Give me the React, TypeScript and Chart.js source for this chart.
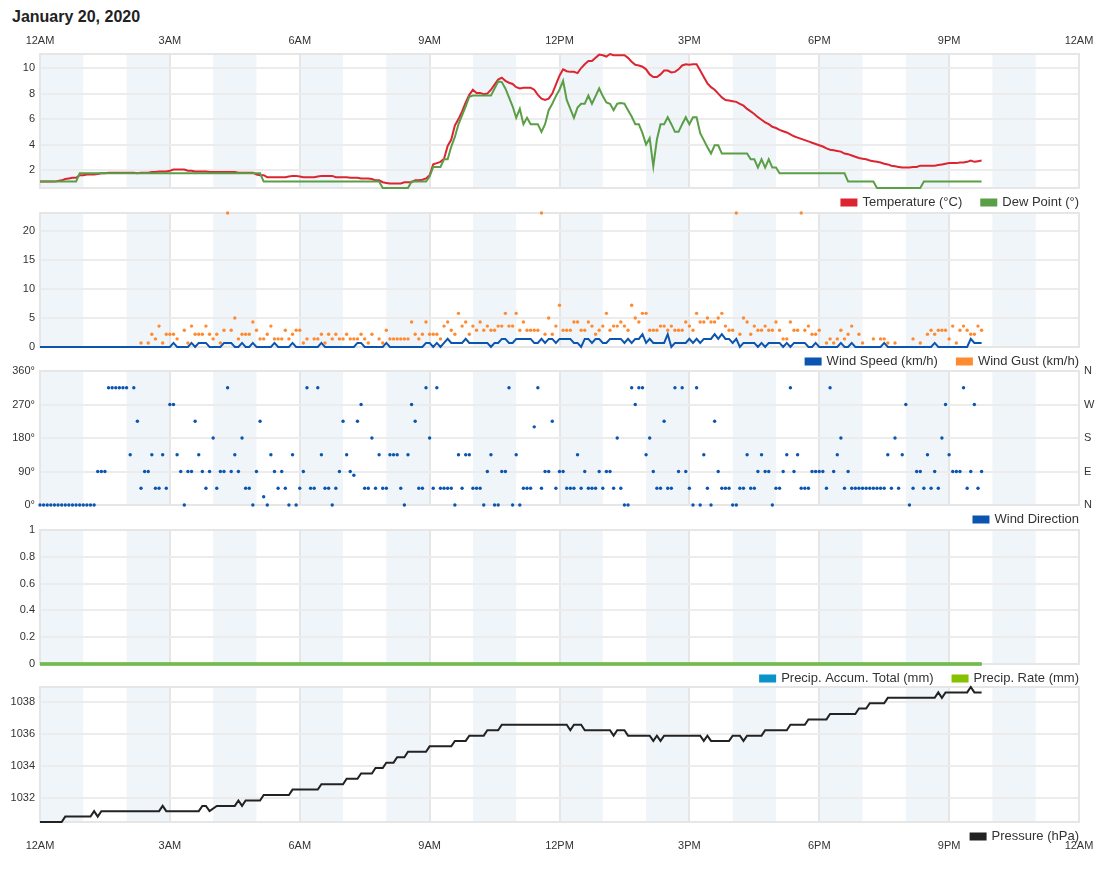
import React, { useEffect, useRef } from 'react';
import Chart from 'chart.js/auto';

// ---------------- data ----------------
const SAMPLE_MINUTES = 5; // one sample every 5 minutes, starting 12AM
const X_TICK_LABELS = ['12AM', '3AM', '6AM', '9AM', '12PM', '3PM', '6PM', '9PM', '12AM'];
const TEMP_TICKS = [2, 4, 6, 8, 10];
const WIND_TICKS = [0, 5, 10, 15, 20];
const DIR_TICKS = [0, 90, 180, 270, 360];
const DIR_TICK_LABELS = ['N', 'E', 'S', 'W', 'N'];
const PRECIP_TICKS = [0, 0.2, 0.4, 0.6, 0.8, 1];
const PRESSURE_TICKS = [1032, 1034, 1036, 1038];

const n = null;

// one row per hour (12 samples)
const temperature = [
  1.1, 1.1, 1.1, 1.1, 1.1, 1.15, 1.2, 1.3, 1.35, 1.4, 1.4, 1.6,
  1.6, 1.65, 1.65, 1.65, 1.7, 1.75, 1.75, 1.8, 1.8, 1.8, 1.8, 1.8,
  1.8, 1.8, 1.8, 1.75, 1.8, 1.8, 1.8, 1.85, 1.85, 1.9, 1.9, 1.9,
  1.95, 2.05, 2.05, 2.05, 2.05, 1.95, 1.95, 1.9, 1.9, 1.9, 1.9, 1.85,
  1.85, 1.85, 1.85, 1.85, 1.85, 1.85, 1.85, 1.8, 1.8, 1.8, 1.8, 1.8,
  1.65, 1.6, 1.6, 1.45, 1.45, 1.45, 1.45, 1.45, 1.45, 1.5, 1.55, 1.55,
  1.5, 1.45, 1.45, 1.45, 1.45, 1.5, 1.55, 1.55, 1.55, 1.55, 1.45, 1.45,
  1.45, 1.45, 1.4, 1.4, 1.4, 1.35, 1.35, 1.35, 1.3, 1.2, 1.2, 1.05,
  1.0, 0.95, 0.95, 0.95, 0.95, 1.05, 1.05, 1.05, 1.2, 1.2, 1.25, 1.35,
  1.6, 2.45, 2.55, 2.65, 2.9, 3.9, 4.4, 5.5, 6.0, 6.6, 7.3, 7.9,
  8.3, 8.05, 8.05, 7.95, 8.0, 8.3, 8.7, 9.1, 9.25, 9.0, 8.85, 8.75,
  8.5, 8.4, 8.45, 8.45, 8.45, 8.3, 7.9, 7.6, 7.5, 7.6, 8.0, 8.7,
  9.4, 9.9, 9.75, 9.7, 9.7, 9.6, 10.0, 10.3, 10.55, 10.55, 10.8, 11.05,
  11.0, 10.9, 11.1, 11.0, 11.0, 11.0, 11.0, 10.8, 10.5, 10.25, 10.2, 10.1,
  9.9, 9.5, 9.3, 9.3, 9.5, 9.8, 9.8, 9.65, 9.7, 9.9, 10.2, 10.3,
  10.25, 10.3, 10.3, 9.8, 9.3, 8.8, 8.5, 8.3, 8.0, 7.7, 7.5, 7.45,
  7.4, 7.35, 7.2, 7.05, 6.8, 6.6, 6.4, 6.15, 5.95, 5.75, 5.6, 5.4,
  5.3, 5.15, 5.05, 4.95, 4.8, 4.65, 4.55, 4.45, 4.35, 4.25, 4.15, 4.05,
  3.95, 3.85, 3.7, 3.6, 3.55, 3.5, 3.45, 3.3, 3.25, 3.15, 3.05, 2.95,
  2.9, 2.85, 2.75, 2.7, 2.65, 2.6, 2.5, 2.45, 2.35, 2.3, 2.25, 2.2,
  2.2, 2.2, 2.25, 2.25, 2.35, 2.35, 2.35, 2.35, 2.35, 2.4, 2.45, 2.5,
  2.55, 2.55, 2.55, 2.6, 2.6, 2.65, 2.75, 2.65, 2.7, 2.75,
];

const dewPoint = [
  1.1, 1.1, 1.1, 1.1, 1.1, 1.1, 1.1, 1.1, 1.1, 1.1, 1.1, 1.75,
  1.75, 1.75, 1.75, 1.75, 1.75, 1.75, 1.75, 1.75, 1.75, 1.75, 1.75, 1.75,
  1.75, 1.75, 1.75, 1.75, 1.75, 1.75, 1.75, 1.75, 1.75, 1.75, 1.75, 1.75,
  1.75, 1.75, 1.75, 1.75, 1.75, 1.75, 1.75, 1.75, 1.75, 1.75, 1.75, 1.75,
  1.75, 1.75, 1.75, 1.75, 1.75, 1.75, 1.75, 1.75, 1.75, 1.75, 1.75, 1.75,
  1.75, 1.75, 1.1, 1.1, 1.1, 1.1, 1.1, 1.1, 1.1, 1.1, 1.1, 1.1,
  1.1, 1.1, 1.1, 1.1, 1.1, 1.1, 1.1, 1.1, 1.1, 1.1, 1.1, 1.1,
  1.1, 1.1, 1.1, 1.1, 1.1, 1.1, 1.1, 1.1, 1.1, 1.1, 1.1, 0.6,
  0.6, 0.6, 0.6, 0.6, 0.6, 0.6, 0.6, 1.1, 1.1, 1.1, 1.1, 1.1,
  1.5, 2.25, 2.25, 2.25, 2.85, 2.85, 3.85, 4.6, 5.6, 6.3, 7.0, 7.75,
  7.85, 7.85, 7.85, 7.85, 7.85, 7.85, 8.4, 8.95, 8.9, 8.4, 7.7, 7.0,
  6.1, 6.8, 5.6, 6.1, 5.6, 5.6, 5.6, 5.0, 5.6, 6.7, 7.2, 7.8,
  8.3, 9.0, 7.5, 6.8, 6.1, 6.9, 7.2, 7.2, 7.85, 7.2, 7.8, 8.4,
  7.8, 7.3, 7.2, 6.7, 7.2, 7.25, 7.2, 6.7, 6.2, 5.6, 5.6, 4.9,
  4.0, 4.5, 2.3, 4.4, 5.6, 5.6, 6.15, 5.6, 5.0, 5.0, 5.6, 6.15,
  5.6, 6.15, 6.15, 4.9, 4.35, 3.8, 3.3, 3.95, 3.95, 3.3, 3.3, 3.3,
  3.3, 3.3, 3.3, 3.3, 3.3, 2.85, 2.85, 2.2, 2.85, 2.2, 2.85, 2.2,
  2.2, 1.75, 1.75, 1.75, 1.75, 1.75, 1.75, 1.75, 1.75, 1.75, 1.75, 1.75,
  1.75, 1.75, 1.75, 1.75, 1.75, 1.75, 1.75, 1.75, 1.1, 1.1, 1.1, 1.1,
  1.1, 1.1, 1.1, 1.1, 0.6, 0.6, 0.6, 0.6, 0.6, 0.6, 0.6, 0.6,
  0.6, 0.6, 0.6, 0.6, 0.6, 1.1, 1.1, 1.1, 1.1, 1.1, 1.1, 1.1,
  1.1, 1.1, 1.1, 1.1, 1.1, 1.1, 1.1, 1.1, 1.1, 1.1,
];

const windSpeed = [
  0, 0, 0, 0, 0, 0, 0, 0, 0, 0, 0, 0,
  0, 0, 0, 0, 0, 0, 0, 0, 0, 0, 0, 0,
  0, 0, 0, 0, 0, 0, 0, 0, 0, 0, 0, 0,
  0, 0.7, 0, 0, 0, 0, 0.7, 0, 0.7, 0.7, 0.7, 0,
  0, 0, 0, 0.7, 0.7, 0.7, 0, 0, 0.7, 0, 0, 0.7,
  0, 0, 0, 0, 0, 0.7, 0, 0, 0, 0, 0.7, 0,
  0, 0, 0, 0, 0, 0, 0.7, 0, 0, 0, 0, 0,
  0, 0, 0, 0, 0.7, 0.7, 0, 0, 0, 0, 0, 0,
  0.7, 0, 0, 0, 0, 0, 0, 0, 0, 0, 0, 0.7,
  0.7, 0, 0.7, 0, 0.7, 1.4, 0.7, 0.7, 0.7, 0.7, 1.4, 0.7,
  0.7, 0.7, 0.7, 0.7, 0.7, 0, 0.7, 0.7, 1.4, 1.4, 0.7, 0.7,
  1.4, 1.4, 1.4, 1.4, 1.4, 0.7, 0.7, 1.4, 0.7, 1.4, 1.4, 0.7,
  1.4, 1.4, 1.4, 1.4, 0.7, 0.7, 0, 1.4, 1.4, 0.7, 1.4, 1.4,
  0.7, 0.7, 1.4, 1.4, 1.4, 1.4, 0.7, 1.4, 0.7, 1.4, 1.4, 2.2,
  0.7, 1.4, 0.7, 0.7, 0.7, 0.7, 2.2, 0, 0.7, 0.7, 0.7, 0.7,
  1.4, 0.7, 1.4, 0.7, 1.4, 1.4, 1.4, 2.2, 1.4, 2.2, 1.4, 1.4,
  0.7, 1.4, 0, 0.7, 0.7, 0.7, 0.7, 0, 0.7, 0, 0.7, 0.7,
  0.7, 0.7, 0, 0.7, 0, 0.7, 0.7, 0.7, 0.7, 0, 0, 0.7,
  0, 0, 0, 0, 0, 0, 0.7, 0, 0, 0.7, 0, 0,
  0, 0, 0, 0, 0, 0, 0.7, 0, 0, 0, 0, 0,
  0, 0, 0, 0, 0, 0, 0, 0, 0.7, 0, 0, 0,
  0, 0, 0, 0, 0, 0, 1.4, 0.7, 0.7, 0.7,
];

const windGust = [
  n, n, n, n, n, n, n, n, n, n, n, n,
  n, n, n, n, n, n, n, n, n, n, n, n,
  n, n, n, n, 0.7, n, 0.7, 2.2, 1.4, 3.6, 0.7, 2.2,
  2.2, 2.2, 1.4, n, 2.9, 0.7, 3.6, 2.2, 2.2, 2.2, 3.6, 2.2,
  1.4, 2.2, 0.7, 2.9, 23.1, 2.9, 5.0, 1.4, 2.2, 2.2, 2.2, 4.3,
  2.9, 1.4, 1.4, 2.2, 3.6, 1.4, 1.4, 1.4, 2.9, 1.4, 2.2, 2.9,
  2.9, 0.7, 1.4, n, 1.4, 1.4, 2.2, 0.7, 2.2, 1.4, 2.2, 1.4,
  1.4, 2.2, 1.4, 1.4, 1.4, 2.2, 1.4, 0.7, 2.2, n, 1.4, 0.7,
  2.9, 1.4, 1.4, 1.4, 1.4, 1.4, 1.4, 4.3, 2.2, 1.4, 2.2, 4.3,
  2.2, 2.2, 2.2, 1.4, 3.6, 4.3, 2.9, 2.2, 5.8, 3.6, 4.3, 2.2,
  3.6, 2.9, 4.3, 2.9, 3.6, 2.9, 2.9, 3.6, 3.6, 5.8, 3.6, 3.6,
  5.8, 2.9, 4.3, 2.9, 2.9, 2.9, 2.9, 23.1, 2.2, 5.0, 2.2, 3.6,
  7.2, 2.9, 2.9, 2.9, 4.3, 4.3, 2.9, 2.9, 4.3, 3.6, 2.2, 2.9,
  3.6, 5.8, 2.9, 3.6, 3.6, 4.3, 3.6, 2.9, 7.2, 5.0, 4.3, 5.8,
  5.8, 2.9, 2.9, 2.9, 3.6, 3.6, 2.9, 3.6, 2.9, 2.9, 2.9, 4.3,
  3.6, 2.9, 5.8, 4.3, 4.3, 5.0, 4.3, 4.3, 5.0, 5.8, 3.6, 2.9,
  2.9, 23.1, 2.2, 5.0, 4.3, 2.2, 3.6, 2.9, 2.9, 3.6, 2.9, 2.9,
  4.3, 2.9, 1.4, 1.4, 4.3, 2.9, 2.9, 23.1, 2.9, 3.6, 2.2, 2.2,
  2.9, n, 0.7, 1.4, 0.7, 1.4, 2.9, 1.4, 2.2, 3.6, n, 2.2,
  0.7, n, n, 1.4, n, 1.4, 1.4, 0.7, n, 0.7, n, n,
  n, n, 1.4, n, 0.7, n, 2.2, 2.9, 2.2, 2.9, 2.9, 2.9,
  1.4, 3.6, 0.7, 2.9, 3.6, 2.9, 2.2, 2.2, 3.6, 2.9,
];

const windDirection = [
  0, 0, 0, 0, 0, 0, 0, 0, 0, 0, 0, 0,
  0, 0, 0, 0, 90, 90, 90, 315, 315, 315, 315, 315,
  315, 135, 315, 225, 45, 90, 90, 135, 45, 45, 135, 45,
  270, 270, 135, 90, 0, 90, 90, 225, 135, 90, 45, 90,
  180, 45, 90, 90, 315, 90, 135, 90, 180, 45, 45, 0,
  90, 225, 22, 0, 135, 90, 45, 90, 45, 0, 135, 0,
  45, 90, 315, 45, 45, 315, 135, 45, 45, 0, 45, 90,
  225, 135, 90, 80, 225, 270, 45, 45, 180, 45, 135, 45,
  45, 135, 135, 135, 45, 0, 135, 270, 225, 45, 45, 315,
  180, 45, 315, 45, 45, 45, 45, 0, 135, 45, 135, 135,
  45, 45, 45, 0, 90, 135, 0, 0, 90, 90, 315, 0,
  135, 0, 45, 45, 45, 210, 315, 45, 90, 90, 225, 45,
  90, 90, 45, 45, 45, 135, 45, 90, 45, 45, 45, 90,
  45, 90, 90, 45, 180, 45, 0, 0, 315, 270, 315, 315,
  135, 180, 90, 45, 45, 225, 45, 45, 315, 90, 315, 90,
  45, 0, 315, 0, 135, 45, 0, 225, 90, 45, 45, 45,
  0, 0, 45, 45, 135, 45, 45, 90, 135, 90, 90, 0,
  45, 45, 90, 135, 315, 90, 135, 45, 45, 45, 90, 90,
  90, 90, 45, 315, 90, 135, 180, 45, 90, 45, 45, 45,
  45, 45, 45, 45, 45, 45, 45, 135, 45, 180, 45, 135,
  270, 0, 45, 90, 90, 45, 135, 45, 90, 45, 180, 270,
  135, 90, 90, 90, 315, 45, 90, 270, 45, 90,
];

const precipMinutes = [0, 1305];
const precipAccumTotal = [0, 0];
const precipRate = [0, 0];

const pressureMinutes = [
  0, 30, 35, 70, 75, 80, 85, 165, 170, 175, 220, 225, 230, 235, 245, 270, 275, 280, 285,
  305, 310, 345, 350, 385, 390, 420, 425, 440, 445, 460, 465, 475, 480, 490, 495, 505, 510,
  535, 540, 570, 575, 590, 595, 615, 620, 635, 640, 730, 735, 740, 750, 755, 790, 795, 800,
  810, 815, 845, 850, 855, 860, 865, 915, 920, 925, 930, 955, 960, 970, 975, 980, 1000, 1005,
  1035, 1040, 1060, 1065, 1090, 1095, 1130, 1135, 1145, 1150, 1170, 1175, 1240, 1245, 1250,
  1255, 1285, 1290, 1295, 1305,
];
const pressure = [
  1030.48, 1030.48, 1030.82, 1030.82, 1031.16, 1030.82, 1031.16, 1031.16, 1031.49, 1031.16,
  1031.16, 1031.49, 1031.49, 1031.16, 1031.49, 1031.49, 1031.83, 1031.49, 1031.83,
  1031.83, 1032.17, 1032.17, 1032.51, 1032.51, 1032.85, 1032.85, 1033.19, 1033.19, 1033.52,
  1033.52, 1033.86, 1033.86, 1034.2, 1034.2, 1034.54, 1034.54, 1034.88,
  1034.88, 1035.22, 1035.22, 1035.56, 1035.56, 1035.89, 1035.89, 1036.23, 1036.23, 1036.57,
  1036.57, 1036.23, 1036.57, 1036.57, 1036.23, 1036.23, 1035.89, 1036.23,
  1036.23, 1035.89, 1035.89, 1035.56, 1035.89, 1035.56, 1035.89, 1035.89, 1035.56, 1035.89,
  1035.56, 1035.56, 1035.89, 1035.89, 1035.56, 1035.89, 1035.89, 1036.23,
  1036.23, 1036.57, 1036.57, 1036.91, 1036.91, 1037.25, 1037.25, 1037.59, 1037.59, 1037.92,
  1037.92, 1038.26, 1038.26, 1038.6, 1038.26,
  1038.6, 1038.6, 1038.94, 1038.6, 1038.6,
];

// ---------------- helpers ----------------
const FONT = '"Liberation Sans", Arial, Helvetica, sans-serif';
Chart.defaults.font.family = FONT;
Chart.defaults.color = '#333';

const bySample = (vals: (number | null)[]) => vals.map((v, i) => ({ x: i * SAMPLE_MINUTES, y: v }));
const byTime = (t: number[], v: number[]) => t.map((m, i) => ({ x: m, y: v[i] }));

const lineDs = (label: string, color: string, data: any[], width = 2, order = 0, legendColor?: string) => ({
  label, data, borderColor: color, backgroundColor: legendColor || color, borderWidth: width,
  pointRadius: 0, pointHoverRadius: 0, tension: 0, fill: false, clip: 4, order,
});
const dotDs = (label: string, color: string, data: any[], order = 0) => ({
  label, data, showLine: false, borderColor: color, backgroundColor: color,
  pointBackgroundColor: color, pointBorderWidth: 0, pointRadius: 1.7, pointHoverRadius: 0,
  clip: 4, order,
});

const bandsPlugin = {
  id: 'hourBands',
  beforeDraw(chart: any) {
    const { ctx, chartArea: a, scales } = chart;
    const x = scales.x;
    ctx.save();
    ctx.fillStyle = '#f0f5fa';
    for (let h = 0; h < 24; h += 2) {
      const x0 = x.getPixelForValue(h * 60);
      const x1 = x.getPixelForValue((h + 1) * 60);
      ctx.fillRect(x0, a.top, x1 - x0, a.bottom - a.top);
    }
    ctx.restore();
  },
  beforeDatasetsDraw(chart: any) {
    const { ctx, chartArea: a } = chart;
    ctx.save();
    ctx.strokeStyle = '#e6e6e6';
    ctx.lineWidth = 2;
    ctx.strokeRect(a.left, a.top, a.right - a.left, a.bottom - a.top);
    ctx.restore();
  },
};

const legendPlugin = {
  id: 'bottomLegend',
  afterDraw(chart: any) {
    const { ctx, chartArea } = chart;
    const ds = chart.data.datasets;
    ctx.save();
    ctx.font = `13px ${FONT}`;
    ctx.textBaseline = 'middle';
    ctx.textAlign = 'left';
    let x = chartArea.right;
    const y = chartArea.bottom + 14.5;
    for (let k = ds.length - 1; k >= 0; k--) {
      const label = ds[k].label;
      const w = ctx.measureText(label).width;
      ctx.fillStyle = '#333';
      ctx.fillText(label, x - w, y);
      const bx = x - w - 5 - 17;
      ctx.fillStyle = ds[k].backgroundColor;
      ctx.fillRect(bx, y - 4, 17, 8);
      x = bx - 18;
    }
    ctx.restore();
  },
};

type Mode = 'top' | 'bottom' | 'none';
interface PanelOpts {
  datasets: any[];
  xMode: Mode;
  yMin: number;
  yMax: number;
  yTicks: number[];
  yLabel: (v: number) => string;
  padTop: number;
  padBottom: number;
  rightLabels?: string[];
}

const fixedTicks = (values: number[]) => (s: any) => {
  s.ticks = values.map((v) => ({ value: v }));
};

function makeConfig(o: PanelOpts): any {
  const scales: any = {
    x: {
      type: 'linear',
      min: 0,
      max: 1440,
      position: o.xMode === 'top' ? 'top' : 'bottom',
      ticks: {
        display: o.xMode !== 'none',
        stepSize: 180,
        autoSkip: false,
        maxRotation: 0,
        padding: o.xMode === 'top' ? 6 : 17,
        color: '#333',
        font: { size: 11 },
        callback: (v: number) => X_TICK_LABELS[Math.round(v / 180)],
      },
      grid: { color: '#e6e6e6', lineWidth: 2, drawTicks: false },
      border: { display: false },
      afterFit: (s: any) => {
        s.height = o.xMode === 'top' ? 29 : o.xMode === 'bottom' ? 36 : 0;
        s.paddingLeft = 0; s.paddingRight = 0; s.paddingTop = 0; s.paddingBottom = 0;
      },
    },
    y: {
      type: 'linear',
      position: 'left',
      min: o.yMin,
      max: o.yMax,
      bounds: 'data',
      afterBuildTicks: fixedTicks(o.yTicks),
      ticks: {
        autoSkip: false,
        padding: 5,
        color: '#333',
        font: { size: 11 },
        callback: (v: number) => o.yLabel(v),
      },
      grid: { color: '#ececec', lineWidth: 2, drawTicks: false },
      border: { display: false },
      afterFit: (s: any) => {
        s.width = 40;
        s.paddingTop = 0; s.paddingBottom = 0; s.paddingLeft = 0; s.paddingRight = 0;
      },
    },
  };
  if (o.rightLabels) {
    const labels = o.rightLabels;
    scales.y2 = {
      type: 'linear',
      position: 'right',
      min: o.yMin,
      max: o.yMax,
      bounds: 'data',
      afterBuildTicks: fixedTicks(o.yTicks),
      ticks: {
        autoSkip: false,
        padding: 5,
        color: '#333',
        font: { size: 11 },
        callback: (v: number) => labels[o.yTicks.indexOf(v)],
      },
      grid: { display: false, drawTicks: false },
      border: { display: false },
      afterFit: (s: any) => {
        s.width = 34;
        s.paddingTop = 0; s.paddingBottom = 0; s.paddingLeft = 0; s.paddingRight = 0;
      },
    };
  }
  return {
    type: 'line',
    data: { datasets: o.datasets },
    options: {
      animation: false,
      responsive: false,
      maintainAspectRatio: false,
      events: [],
      layout: { padding: { left: 0, right: o.rightLabels ? 0 : 34, top: o.padTop, bottom: o.padBottom } },
      plugins: { legend: { display: false }, tooltip: { enabled: false } },
      scales,
    },
    plugins: [bandsPlugin, legendPlugin],
  };
}

const numLabel = (v: number) => String(Math.round(v * 10) / 10);

const tempAll = [...temperature, ...dewPoint];
const PANELS: { top: number; height: number; config: () => any }[] = [
  {
    top: 25,
    height: 187,
    config: () =>
      makeConfig({
        datasets: [
          lineDs('Temperature (°C)', '#dc2530', bySample(temperature), 2, 1),
          lineDs('Dew Point (°)', '#5a9f47', bySample(dewPoint), 2, 0),
        ],
        xMode: 'top',
        yMin: Math.min(...tempAll),
        yMax: Math.max(...tempAll),
        yTicks: TEMP_TICKS,
        yLabel: numLabel,
        padTop: 0,
        padBottom: 24,
      }),
  },
  {
    top: 205,
    height: 166,
    config: () =>
      makeConfig({
        datasets: [
          lineDs('Wind Speed (km/h)', '#0b55b0', bySample(windSpeed), 2, 1),
          dotDs('Wind Gust (km/h)', '#ff8a30', bySample(windGust), 0),
        ],
        xMode: 'none',
        yMin: 0,
        yMax: Math.max(...(windGust.filter((v) => v !== null) as number[])),
        yTicks: WIND_TICKS,
        yLabel: numLabel,
        padTop: 8,
        padBottom: 24,
      }),
  },
  {
    top: 363,
    height: 166,
    config: () =>
      makeConfig({
        datasets: [dotDs('Wind Direction', '#0b55b0', bySample(windDirection), 0)],
        xMode: 'none',
        yMin: 0,
        yMax: 360,
        yTicks: DIR_TICKS,
        yLabel: (v) => `${v}°`,
        padTop: 8,
        padBottom: 24,
        rightLabels: DIR_TICK_LABELS,
      }),
  },
  {
    top: 522,
    height: 166,
    config: () =>
      makeConfig({
        datasets: [
          lineDs('Precip. Accum. Total (mm)', '#0b93c9', byTime(precipMinutes, precipAccumTotal), 3, 1),
          lineDs('Precip. Rate (mm)', '#7cbd30', byTime(precipMinutes, precipRate), 3, 0, '#86c100'),
        ],
        xMode: 'none',
        yMin: 0,
        yMax: 1,
        yTicks: PRECIP_TICKS,
        yLabel: numLabel,
        padTop: 8,
        padBottom: 24,
      }),
  },
  {
    top: 679,
    height: 179,
    config: () =>
      makeConfig({
        datasets: [lineDs('Pressure (hPa)', '#222222', byTime(pressureMinutes, pressure), 2, 0)],
        xMode: 'bottom',
        yMin: Math.min(...pressure),
        yMax: Math.max(...pressure),
        yTicks: PRESSURE_TICKS,
        yLabel: (v) => String(Math.round(v)),
        padTop: 8,
        padBottom: 0,
      }),
  },
];

function Panel({ top, height, config }: { top: number; height: number; config: () => any }) {
  const ref = useRef<HTMLCanvasElement>(null);
  useEffect(() => {
    if (!ref.current) return;
    const chart = new Chart(ref.current, config());
    return () => chart.destroy();
  }, []);
  return (
    <canvas
      ref={ref}
      width={1113}
      height={height}
      style={{ position: 'absolute', left: 0, top, width: 1113, height }}
    />
  );
}

export default function App() {
  return (
    <div style={{ position: 'absolute', left: 0, top: 0, width: 1113, height: 870, background: '#fff' }}>
      <div
        style={{
          position: 'absolute',
          left: 12,
          top: 7,
          font: `bold 16px ${FONT}`,
          color: '#222',
          lineHeight: '19px',
          whiteSpace: 'nowrap',
        }}
      >
        January 20, 2020
      </div>
      {PANELS.map((p, i) => (
        <Panel key={i} top={p.top} height={p.height} config={p.config} />
      ))}
    </div>
  );
}
